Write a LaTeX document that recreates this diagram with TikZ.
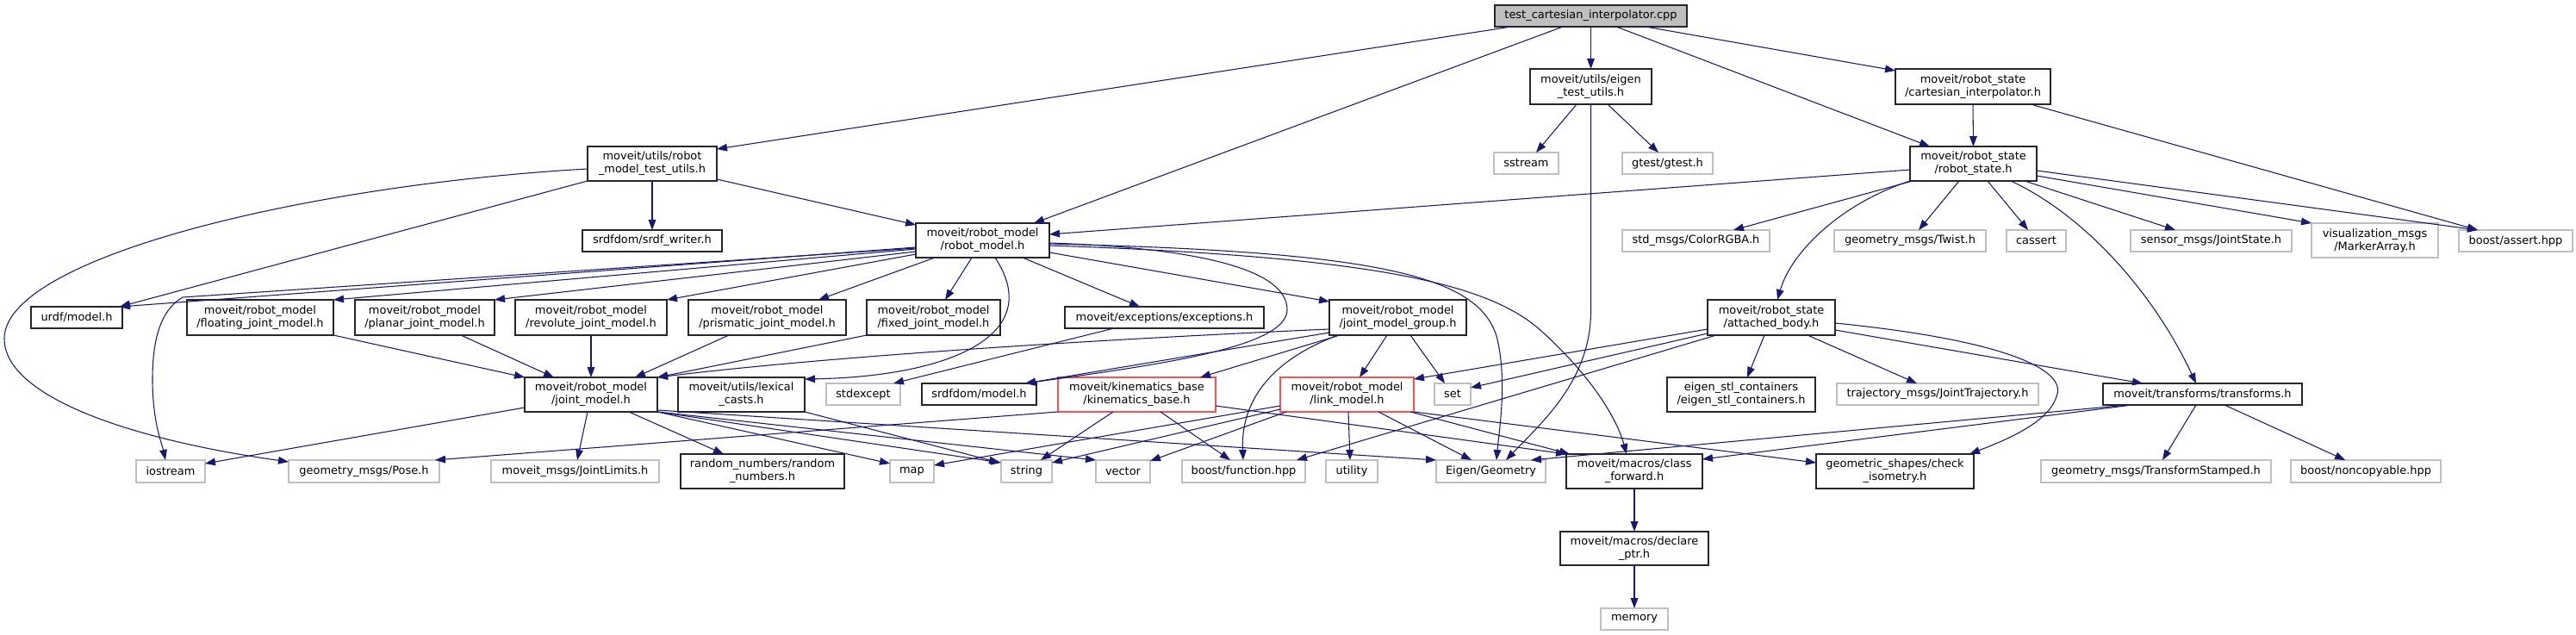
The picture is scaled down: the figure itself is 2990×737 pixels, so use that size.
\documentclass[tikz,border=0pt]{standalone}
\usepackage{fontspec}
\setmainfont{DejaVu Sans}
\usetikzlibrary{arrows.meta,calc}
\definecolor{edgec}{HTML}{191970}
\definecolor{extc}{HTML}{BFBFBF}
\definecolor{redc}{HTML}{FF5050}
\definecolor{rootc}{HTML}{BFBFBF}
\tikzset{
 nd/.style={rectangle, inner sep=0pt, outer sep=0pt, align=center, font=\fontsize{9.7}{11.25}\selectfont, line width=1pt},
 doc/.style={nd, draw=black!85, fill=white},
 ext/.style={nd, draw=extc, fill=white},
 trunc/.style={nd, draw=redc, fill=white},
 root/.style={nd, draw=black!85, fill=rootc},
 dep/.style={draw=edgec, line width=0.8pt, -{Triangle[length=9pt,width=6.5pt]}},
}
\newcommand{\bx}[7]{\pgfmathsetmacro{\bxw}{(#5-#3)*0.75}\pgfmathsetmacro{\bxh}{(#6-#4)*0.75}\node[#1, minimum width=\bxw pt, minimum height=\bxh pt] (#2) at ({(#3+#5)/2},{(#4+#6)/2}) {#7};}
\begin{document}
\begin{tikzpicture}[x=0.75pt,y=-0.75pt]
\useasboundingbox[fill=white] (0,0) rectangle (2990,737);
\bx{root}{T}{1735}{6}{1958}{31}{test\_cartesian\_interpolator.cpp}
\bx{doc}{ETU}{1776}{80}{1917}{121}{moveit/utils/eigen\\\_test\_utils.h}
\bx{doc}{CI}{2200}{80}{2380}{121}{moveit/robot\_state\\/cartesian\_interpolator.h}
\bx{doc}{RMTU}{682}{170}{832}{210}{moveit/utils/robot\\\_model\_test\_utils.h}
\bx{doc}{RS}{2217}{170}{2364}{210}{moveit/robot\_state\\/robot\_state.h}
\bx{ext}{SS}{1734}{177}{1809}{202}{sstream}
\bx{ext}{GT}{1883}{177}{1988}{202}{gtest/gtest.h}
\bx{doc}{RM}{1063}{259}{1218}{299}{moveit/robot\_model\\/robot\_model.h}
\bx{doc}{SW}{676}{267}{838}{292}{srdfdom/srdf\_writer.h}
\bx{ext}{CRGBA}{1883}{267}{2054}{292}{std\_msgs/ColorRGBA.h}
\bx{ext}{TW}{2129}{267}{2305}{292}{geometry\_msgs/Twist.h}
\bx{ext}{CA}{2329}{267}{2398}{292}{cassert}
\bx{ext}{JS}{2473}{267}{2660}{292}{sensor\_msgs/JointState.h}
\bx{ext}{MA}{2683}{259}{2830}{299}{visualization\_msgs\\/MarkerArray.h}
\bx{ext}{BA}{2854}{267}{2986}{292}{boost/assert.hpp}
\bx{doc}{URDF}{36}{356}{142}{381}{urdf/model.h}
\bx{doc}{FL}{217}{348}{387}{389}{moveit/robot\_model\\/floating\_joint\_model.h}
\bx{doc}{PL}{412}{348}{574}{389}{moveit/robot\_model\\/planar\_joint\_model.h}
\bx{doc}{RV}{598}{348}{774}{389}{moveit/robot\_model\\/revolute\_joint\_model.h}
\bx{doc}{PR}{799}{348}{982}{389}{moveit/robot\_model\\/prismatic\_joint\_model.h}
\bx{doc}{FX}{1006}{348}{1161}{389}{moveit/robot\_model\\/fixed\_joint\_model.h}
\bx{doc}{EX}{1236}{356}{1467}{381}{moveit/exceptions/exceptions.h}
\bx{doc}{JMG}{1543}{348}{1702}{389}{moveit/robot\_model\\/joint\_model\_group.h}
\bx{doc}{AB}{1982}{348}{2130}{389}{moveit/robot\_state\\/attached\_body.h}
\bx{doc}{JM}{609}{438}{763}{478}{moveit/robot\_model\\/joint\_model.h}
\bx{doc}{LC}{787}{438}{934}{478}{moveit/utils/lexical\\\_casts.h}
\bx{ext}{SE}{959}{445}{1045}{470}{stdexcept}
\bx{doc}{SD}{1070}{445}{1203}{470}{srdfdom/model.h}
\bx{trunc}{KB}{1228}{438}{1411}{478}{moveit/kinematics\_base\\/kinematics\_base.h}
\bx{trunc}{LM}{1486}{438}{1641}{478}{moveit/robot\_model\\/link\_model.h}
\bx{ext}{SET}{1665}{445}{1707}{470}{set}
\bx{doc}{ESC}{1935}{438}{2107}{478}{eigen\_stl\_containers\\/eigen\_stl\_containers.h}
\bx{ext}{JT}{2132}{445}{2366}{470}{trajectory\_msgs/JointTrajectory.h}
\bx{doc}{TF}{2441}{445}{2672}{470}{moveit/transforms/transforms.h}
\bx{ext}{IO}{158}{534}{238}{560}{iostream}
\bx{ext}{PO}{335}{534}{510}{560}{geometry\_msgs/Pose.h}
\bx{ext}{JL}{570}{534}{765}{560}{moveit\_msgs/JointLimits.h}
\bx{doc}{RN}{790}{527}{980}{567}{random\_numbers/random\\\_numbers.h}
\bx{ext}{MAP}{1033}{534}{1084}{560}{map}
\bx{ext}{STR}{1162}{534}{1221}{560}{string}
\bx{ext}{VEC}{1272}{534}{1335}{560}{vector}
\bx{ext}{BF}{1372}{534}{1515}{560}{boost/function.hpp}
\bx{ext}{UT}{1539}{534}{1599}{560}{utility}
\bx{ext}{EG}{1667}{534}{1794}{560}{Eigen/Geometry}
\bx{doc}{CF}{1818}{527}{1976}{567}{moveit/macros/class\\\_forward.h}
\bx{doc}{CIso}{2108}{527}{2291}{567}{geometric\_shapes/check\\\_isometry.h}
\bx{ext}{TS}{2369}{534}{2636}{560}{geometry\_msgs/TransformStamped.h}
\bx{ext}{NC}{2659}{534}{2833}{560}{boost/noncopyable.hpp}
\bx{doc}{DP}{1811}{617}{1983}{656}{moveit/macros/declare\\\_ptr.h}
\bx{ext}{MEM}{1858}{706}{1936}{731}{memory}
% root
\draw[dep] ($(T.south west)+(19,0)$) -- ($(RMTU.north east)+(0,3)$);
\draw[dep] ($(T.south west)+(79,0)$) -- ($(RM.north west)+(137,0)$);
\draw[dep] (T.south) -- (ETU.north);
\draw[dep] ($(T.south west)+(141,0)$) -- ($(RS.north west)+(23,0)$);
\draw[dep] ($(T.south west)+(175,0)$) -- ($(CI.north west)+(0,2)$);
% eigen test utils
\draw[dep] ($(ETU.south west)+(54,0)$) -- ($(SS.north west)+(49,0)$);
\draw[dep] ($(ETU.south west)+(90,0)$) -- ($(GT.north west)+(42,0)$);
\draw[dep] (ETU.south) -- ($(ETU.south)+(0,240)$) .. controls ($(ETU.south)+(0,320)$) and (1790,490) .. ($(EG.north west)+(81,0)$);
% cartesian interpolator
\draw[dep] (CI.south) -- (RS.north);
\draw[dep] ($(CI.south west)+(157,0)$) -- ($(BA.north west)+(22,0)$);
% robot state
\draw[dep] ($(RS.north west)+(0,27)$) -- ($(RM.north east)+(0,13)$);
\draw[dep] ($(RS.south west)+(3,0)$) -- ($(CRGBA.north west)+(129,0)$);
\draw[dep] ($(RS.south west)+(57,0)$) -- ($(TW.north west)+(98,0)$);
\draw[dep] ($(RS.south west)+(90,0)$) -- ($(CA.north west)+(25,0)$);
\draw[dep] ($(RS.south west)+(133,0)$) -- ($(JS.north west)+(52,0)$);
\draw[dep] ($(RS.north east)+(0,34)$) -- (MA.north west);
\draw[dep] ($(RS.north east)+(0,28)$) -- ($(BA.north west)+(22,0)$);
\draw[dep] (RS.south west) .. controls (2140,235) and (2080,290) .. ($(AB.north west)+(81,0)$);
\draw[dep] ($(RS.south west)+(117,0)$) .. controls (2420,250) and (2500,340) .. ($(TF.north west)+(108,0)$);
% robot model test utils
\draw[dep] (RMTU.south west) -- ($(URDF.north east)+(-3,0)$);
\draw[dep] (RMTU.south) -- (SW.north);
\draw[dep] ($(RMTU.north east)+(0,38)$) -- ($(RM.north west)+(0,2)$);
\draw[dep] ($(RMTU.north west)+(0,26)$) .. controls (350,215) and (5,300) .. (5,393) .. controls (5,460) and (150,510) .. ($(PO.north west)+(0,2)$);
% robot model
\draw[dep] ($(RM.north west)+(0,28)$) -- ($(URDF.north east)+(-3,0)$);
\draw[dep] ($(RM.north west)+(0,29)$) -- (212,345) .. controls (186,360) and (177,395) .. (177,440) .. controls (177,490) and (188,515) .. ($(IO.north west)+(34,0)$);
\draw[dep] ($(RM.north west)+(0,30)$) -- (FL.north east);
\draw[dep] ($(RM.north west)+(0,33)$) -- (PL.north east);
\draw[dep] ($(RM.north west)+(0,36)$) -- (RV.north east);
\draw[dep] ($(RM.south west)+(22,0)$) -- ($(PR.north west)+(151,0)$);
\draw[dep] ($(RM.south west)+(65,0)$) -- ($(FX.north west)+(91,0)$);
\draw[dep] ($(RM.south west)+(92,0)$) .. controls (1215,390) and (1100,437) .. ($(LC.north east)+(0,2)$);
\draw[dep] ($(RM.south west)+(124,0)$) -- ($(EX.north west)+(87,0)$);
\draw[dep] ($(RM.north east)+(0,34)$) -- ($(JMG.north west)+(0,2)$);
\draw[dep] ($(RM.north east)+(0,23)$) .. controls (1400,288) and (1495,315) .. (1494,360) .. controls (1493,405) and (1330,425) .. ($(SD.north west)+(120,0)$);
\draw[dep] ($(RM.north east)+(0,24)$) .. controls (1600,292) and (1715,320) .. (1737,390) .. controls (1750,440) and (1740,500) .. ($(EG.north west)+(70,0)$);
\draw[dep] ($(RM.north east)+(0,26)$) .. controls (1600,298) and (1730,330) .. (1790,385) .. controls (1840,430) and (1875,480) .. ($(CF.north west)+(70,0)$);
% joint model group
\draw[dep] ($(JMG.north west)+(0,34)$) .. controls (1250,395) and (950,415) .. (JM.north east);
\draw[dep] ($(JMG.north west)+(0,38)$) -- ($(SD.north west)+(120,0)$);
\draw[dep] ($(JMG.south west)+(12,0)$) -- ($(KB.north west)+(165,0)$);
\draw[dep] ($(JMG.south west)+(10,0)$) .. controls (1470,420) and (1440,470) .. ($(BF.north west)+(71,0)$);
\draw[dep] ($(JMG.south west)+(67,0)$) -- ($(LM.north west)+(92,0)$);
\draw[dep] ($(JMG.south west)+(94,0)$) -- ($(SET.north west)+(12,0)$);
% joint model types
\draw[dep] (FX.south west) -- (JM.north east);
\draw[dep] (FL.south east) -- (JM.north west);
\draw[dep] ($(PL.south west)+(123,0)$) -- ($(JM.north west)+(34,0)$);
\draw[dep] ($(RV.south west)+(88,0)$) -- ($(JM.north west)+(77,0)$);
\draw[dep] ($(PR.south west)+(47,0)$) -- ($(JM.north west)+(128,0)$);
% joint model
\draw[dep] ($(JM.north west)+(0,35)$) -- ($(IO.north east)+(0,4)$);
\draw[dep] ($(JM.south west)+(73,0)$) -- ($(JL.north west)+(100,0)$);
\draw[dep] ($(JM.south west)+(121,0)$) -- ($(RN.north west)+(50,0)$);
\draw[dep] (JM.south east) -- ($(MAP.north west)+(0,4)$);
\draw[dep] (JM.south east) -- ($(STR.north west)+(0,3)$);
\draw[dep] (JM.south east) -- (VEC.north west);
\draw[dep] ($(JM.north east)+(0,38)$) -- (EG.north west);
% misc
\draw[dep] (LC.south east) -- ($(STR.north west)+(-2,3)$);
\draw[dep] ($(EX.south west)+(57,0)$) -- ($(SE.north west)+(78,0)$);
% kinematics base
\draw[dep] (KB.south west) -- ($(PO.north west)+(170,0)$);
\draw[dep] ($(KB.south west)+(64,0)$) -- ($(STR.north west)+(46,0)$);
\draw[dep] ($(KB.south west)+(119,0)$) -- ($(BF.north west)+(56,0)$);
\draw[dep] ($(KB.north east)+(0,33)$) -- (CF.north west);
% link model
\draw[dep] ($(LM.north west)+(0,33)$) -- ($(MAP.north east)+(0,6)$);
\draw[dep] ($(LM.north west)+(0,37)$) -- ($(STR.north east)+(0,3)$);
\draw[dep] ($(LM.south west)+(7,0)$) -- ($(VEC.north east)+(0,1)$);
\draw[dep] ($(LM.south west)+(79,0)$) -- ($(UT.north west)+(28,0)$);
\draw[dep] ($(LM.south west)+(114,0)$) -- ($(EG.north west)+(41,0)$);
\draw[dep] ($(LM.south west)+(151,0)$) -- ($(CF.north west)+(4,0)$);
\draw[dep] (LM.south east) -- ($(CIso.north west)+(0,10)$);
% attached body
\draw[dep] ($(AB.north west)+(0,34)$) -- ($(LM.north east)+(0,2)$);
\draw[dep] ($(AB.north west)+(0,39)$) -- ($(SET.north east)+(0,5)$);
\draw[dep] ($(AB.south west)+(10,0)$) -- ($(BF.north east)+(-10,0)$);
\draw[dep] ($(AB.south west)+(66,0)$) -- ($(ESC.north west)+(93,0)$);
\draw[dep] ($(AB.south west)+(116,0)$) -- ($(JT.north west)+(93,0)$);
\draw[dep] ($(AB.north east)+(0,35)$) -- ($(TF.north west)+(46,0)$);
\draw[dep] ($(AB.north east)+(0,27)$) .. controls (2330,395) and (2400,430) .. (2387,460) .. controls (2378,490) and (2330,510) .. ($(CIso.north east)+(-5,0)$);
% transforms
\draw[dep] ($(TF.south west)+(29,0)$) -- ($(EG.north east)+(-17,0)$);
\draw[dep] ($(TF.south west)+(34,0)$) -- ($(CF.north east)+(0,6)$);
\draw[dep] ($(TF.south west)+(108,0)$) -- ($(TS.north west)+(141,0)$);
\draw[dep] ($(TF.south west)+(141,0)$) -- ($(NC.north west)+(63,0)$);
% macros
\draw[dep] (CF.south) -- (DP.north);
\draw[dep] (DP.south) -- (MEM.north);
\end{tikzpicture}
\end{document}
